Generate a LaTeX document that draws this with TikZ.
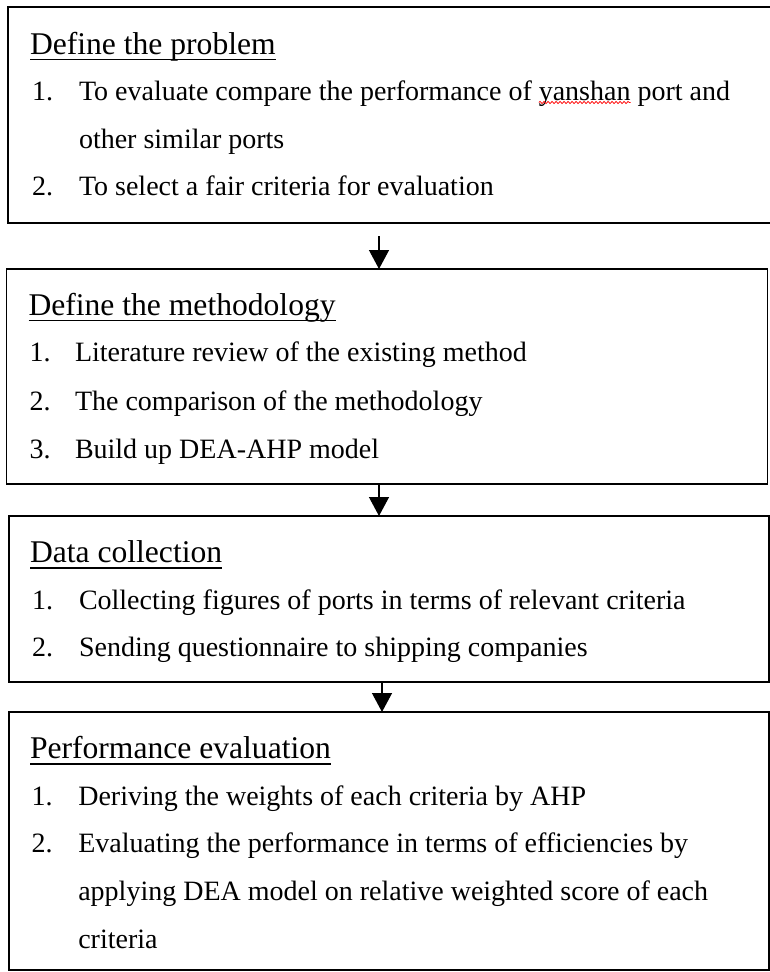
\documentclass[tikz,border=0pt]{standalone}
\usepackage{fontspec}
\setmainfont{Liberation Serif}
\usetikzlibrary{arrows.meta,decorations.pathmorphing}
\begin{document}
\begin{tikzpicture}[x=1pt,y=-1pt,
  box/.style={draw, line width=1.3pt, rectangle, inner sep=0pt, outer sep=0pt, anchor=north west},
  ttl/.style={anchor=base west, inner sep=0pt, outer sep=0pt, font=\fontsize{31.6}{38}\selectfont},
  itm/.style={anchor=base west, inner sep=0pt, outer sep=0pt, font=\fontsize{28}{34}\selectfont},
  arr/.style={line width=1.3pt, -{Triangle[width=20pt,length=19pt]}},
  uln/.style={line width=1.5pt},
  squig/.style={draw=red, line width=0.7pt, decorate, decoration={snake, amplitude=1.1pt, segment length=4pt}}
]
\useasboundingbox (0,0) rectangle (770,972);

% boxes
\node[box, minimum width=764pt, minimum height=216pt] (b1) at (8,7) {};
\node[box, minimum width=761pt, minimum height=215pt] (b2) at (6.5,269) {};
\node[box, minimum width=760pt, minimum height=166pt] (b3) at (9,516) {};
\node[box, minimum width=760pt, minimum height=258pt] (b4) at (9,712) {};

% arrows
\coordinate (a1) at (379,236);
\coordinate (a3) at (382,0);
\draw[arr] (a1) -- (a1 |- b2.north);
\draw[arr] (b2.south -| a1) -- (b3.north -| a1);
\draw[arr] (b3.south -| a3) -- (b4.north -| a3);

% box 1
\node[ttl] (t1) at (30,54) {Define the problem};
\draw[uln] ([yshift=-5.3pt]t1.base west) -- ([yshift=-5.3pt]t1.base east);
\node[itm] (n11) at (32,100) {1.};
\node[itm] (p11a) at (79,100) {To evaluate compare the performance of};
\node[itm] (p11b) at ([xshift=7pt]p11a.base east) {yanshan};
\node[itm] (p11c) at ([xshift=7pt]p11b.base east) {port and};
\draw[squig] ([yshift=-2.5pt]p11b.base west) -- ([yshift=-2.5pt]p11b.base east);
\node[itm] (p11d) at (79,148) {other similar ports};
\node[itm] (n12) at (32,195) {2.};
\node[itm] (p12) at (79,195) {To select a fair criteria for evaluation};

% box 2
\node[ttl] (t2) at (28.5,315) {Define the methodology};
\draw[uln] ([yshift=-5.3pt]t2.base west) -- ([yshift=-5.3pt]t2.base east);
\node[itm] (n21) at (29.5,361.7) {1.};
\node[itm] (p21) at (75,361.7) {Literature review of the existing method};
\node[itm] (n22) at (29.5,410) {2.};
\node[itm] (p22) at (75,410) {The comparison of the methodology};
\node[itm] (n23) at (29.5,458) {3.};
\node[itm] (p23) at (75,458) {Build up DEA-AHP model};

% box 3
\node[ttl] (t3) at (30,562.7) {Data collection};
\draw[uln] ([yshift=-5.3pt]t3.base west) -- ([yshift=-5.3pt]t3.base east);
\node[itm] (n31) at (32,609) {1.};
\node[itm] (p31) at (79,609) {Collecting figures of ports in terms of relevant criteria};
\node[itm] (n32) at (32,656.7) {2.};
\node[itm] (p32) at (79,656.7) {Sending questionnaire to shipping companies};

% box 4
\node[ttl] (t4) at (30,758.7) {Performance evaluation};
\draw[uln] ([yshift=-5.3pt]t4.base west) -- ([yshift=-5.3pt]t4.base east);
\node[itm] (n41) at (31.7,805) {1.};
\node[itm] (p41) at (78.3,805) {Deriving the weights of each criteria by AHP};
\node[itm] (n42) at (31.7,852) {2.};
\node[itm] (p42) at (78.3,852) {Evaluating the performance in terms of efficiencies by};
\node[itm] (p43) at (78.3,900) {applying DEA model on relative weighted score of each};
\node[itm] (p44) at (78.3,948.7) {criteria};
\end{tikzpicture}
\end{document}
